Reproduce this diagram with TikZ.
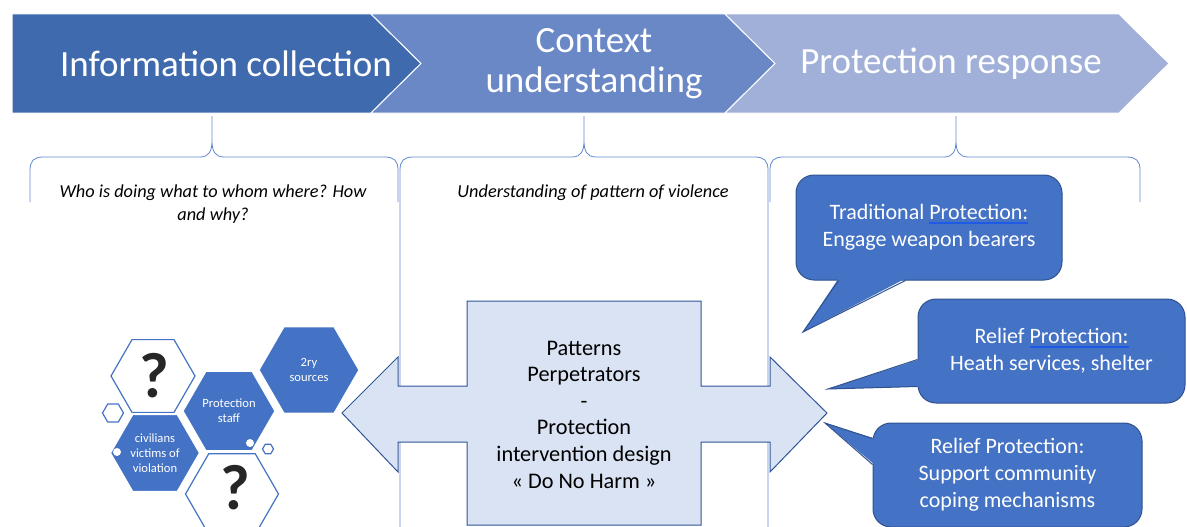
\documentclass[tikz,border=0pt]{standalone}
\usepackage{fontspec}
\setmainfont{Carlito}
\usetikzlibrary{shapes.geometric,calc}
\definecolor{infoblue}{HTML}{3F6AAE}
\definecolor{ctxblue}{HTML}{6A88C6}
\definecolor{respblue}{HTML}{A1B0D9}
\definecolor{hexblue}{HTML}{4472C4}
\definecolor{bubbleedge}{HTML}{2F528F}
\definecolor{designfill}{HTML}{DAE3F3}
\definecolor{designedge}{HTML}{2F5597}
\definecolor{qgray}{HTML}{262626}
\definecolor{markblue}{HTML}{1E5AE6}
\newsavebox{\spellbox}
\newcommand{\spellmark}[1]{\sbox{\spellbox}{#1}\leavevmode\rlap{\color{markblue}\vrule width\wd\spellbox height -2.6pt depth 4.4pt}\usebox{\spellbox}}

\begin{document}
\begin{tikzpicture}[x=1pt,y=-1pt,
  steplabel/.style={text=white,align=center,font=\fontsize{37}{40}\selectfont},
  question/.style={text=black,align=center,font=\itshape\fontsize{18.3}{23}\selectfont},
  honey/.style={regular polygon,regular polygon sides=6,inner sep=0pt,line width=1.2pt},
  hexfull/.style={honey,fill=hexblue,draw=white,text=white,align=center,font=\fontsize{12.6}{15}\selectfont},
  hexopen/.style={honey,fill=white,draw=hexblue},
  qmark/.style={inner sep=0pt,text=qgray,text depth=0pt,font=\bfseries\fontsize{64}{64}\selectfont},
  bubble/.style={rectangle,rounded corners=18pt,fill=hexblue,draw=bubbleedge,line width=1pt,text=white,align=center,font=\fontsize{22}{26.8}\selectfont},
  brace/.style={draw=hexblue!85,line width=0.8pt}]
  \useasboundingbox (0,0) rectangle (1187,527);

  %% braces
  \foreach \l/\m/\r/\e in {30/212/398/202, 400/584/768/527, 770/956/1140/202}
    \draw[brace] (\l,\e) -- (\l,170) .. controls (\l,161) and (\l+4,157) .. (\l+13,157)
      -- (\m-12,157) .. controls (\m-3,157) and (\m,151) .. (\m,141) -- (\m,116)
      -- (\m,141) .. controls (\m,151) and (\m+3,157) .. (\m+12,157)
      -- (\r-13,157) .. controls (\r-4,157) and (\r,161) .. (\r,170) -- (\r,\e);

  \node[question] (who) at (213,204.5) {Who is doing what to whom where? How\\and why?};
  \node[question] (pattern) at (593,193) {Understanding of pattern of violence};

  %% honeycomb
  \node[honey,draw=hexblue,fill=white,minimum size=21pt] (hexsmall) at (113,413) {};
  \node[honey,draw=hexblue,fill=white,minimum size=11pt] (hextiny) at (268,449) {};
  \node[hexopen,minimum size=84pt] (qtop) at (153,376) {};
  \node[qmark] (qtopmark) at (154,375) {?};
  \node[hexfull,minimum size=92pt] (staff) at (229,411) {Protection\\staff};
  \node[hexfull,minimum size=100pt] (sources) at (309,370) {2ry\\sources};
  \node[hexfull,minimum size=89pt] (civ) at (155,453) {civilians\\victims of\\violation};
  \node[hexopen,minimum size=93pt] (qbot) at (232,494) {};
  \node[qmark] (qbotmark) at (235,487) {?};
  \node[circle,fill=white,inner sep=0pt,minimum size=8pt] (dotstaff) at (250,443) {};
  \node[circle,fill=white,inner sep=0pt,minimum size=8pt] (dotciv) at (117,452) {};

  %% double arrow
  \filldraw[fill=designfill,draw=designedge,line width=1pt]
    (342,413) -- (398,357) -- (398,386) -- (467,386) -- (467,301) -- (701,301)
    -- (701,386) -- (770,386) -- (770,357) -- (827,413) -- (770,472) -- (770,442)
    -- (701,442) -- (701,525) -- (467,525) -- (467,442) -- (398,442) -- (398,472) -- cycle;
  \node[align=center,font=\fontsize{22.3}{26.6}\selectfont] (design) at (584,414.5)
    {Patterns\\Perpetrators\\-\\Protection\\intervention design\\« Do No Harm »};

  %% callouts
  \node[bubble,minimum width=266pt,minimum height=105pt] (trad) at (929,227.5)
    {Traditional \spellmark{Protection:}\\Engage weapon bearers};
  \node[bubble,minimum width=267pt,minimum height=104pt] (relief) at (1051.5,351)
    {Relief \spellmark{Protection:}\\Heath services, shelter};
  \node[bubble,minimum width=269pt,minimum height=104pt] (coping) at (1007.5,475)
    {Relief Protection:\\Support community\\coping mechanisms};

  \coordinate (tradtip) at (803,332);
  \coordinate (relieftip) at (828,389);
  \coordinate (copingtip) at (825,423);
  \fill[hexblue] ($(trad.south west)+(43,-2)$) -- (tradtip) -- ($(trad.south west)+(110,-2)$) -- cycle;
  \draw[bubbleedge,line width=1pt] ($(trad.south west)+(43,0)$) -- (tradtip) -- ($(trad.south west)+(110,0)$);
  \fill[hexblue] ($(relief.north west)+(2,61)$) -- (relieftip) -- ($(relief.north west)+(2,88)$) -- cycle;
  \draw[bubbleedge,line width=1pt] ($(relief.north west)+(0,61)$) -- (relieftip) -- ($(relief.north west)+(0,88)$);
  \fill[hexblue] ($(coping.north west)+(2,16)$) -- (copingtip) -- ($(coping.north west)+(2,42)$) -- cycle;
  \draw[bubbleedge,line width=1pt] ($(coping.north west)+(0,16)$) -- (copingtip) -- ($(coping.north west)+(0,42)$);

  %% steps
  \filldraw[fill=infoblue,draw=white,line width=1pt] (12,14) -- (371,14) -- (421,63.5) -- (371,113) -- (12,113) -- cycle;
  \filldraw[fill=ctxblue,draw=white,line width=1pt] (371,14) -- (725,14) -- (775,63.5) -- (725,113) -- (371,113) -- (421,63.5) -- cycle;
  \filldraw[fill=respblue,draw=white,line width=1pt] (725,14) -- (1119,14) -- (1169,63.5) -- (1119,113) -- (725,113) -- (775,63.5) -- cycle;
  \node[steplabel] (info) at (226,64) {Information collection};
  \node[steplabel] (context) at (594,64) {Context\\understanding};
  \node[steplabel] (response) at (951,64) {Protection response};

\end{tikzpicture}
\end{document}
